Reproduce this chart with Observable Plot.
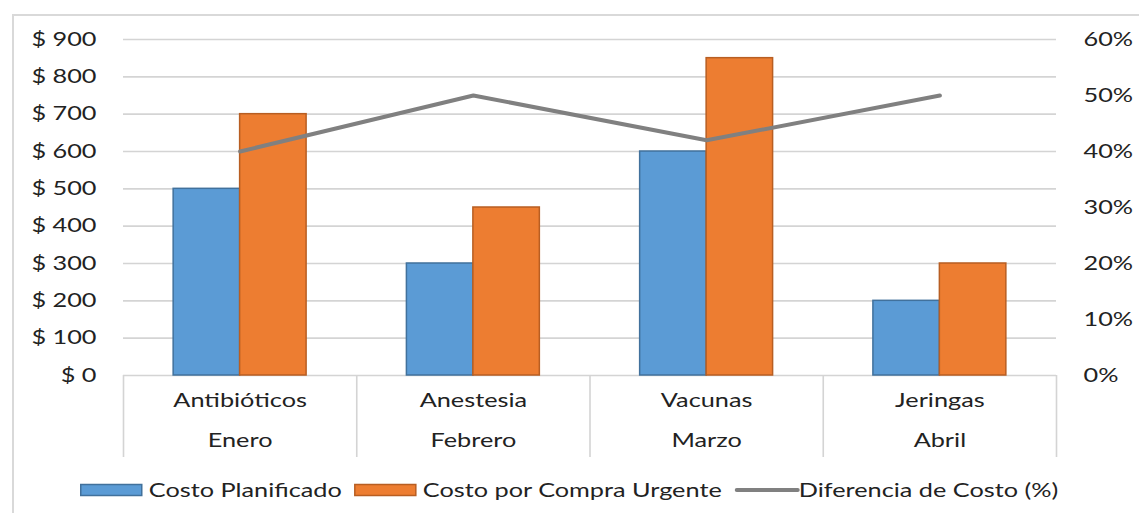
<!DOCTYPE html>
<html>
<head>
<meta charset="utf-8">
<script src="https://cdn.jsdelivr.net/npm/d3@7"></script>
<script src="https://cdn.jsdelivr.net/npm/@observablehq/plot@0.6"></script>
<style>
  html, body { margin: 0; padding: 0; background: #fff; }
  #wrap { position: relative; width: 1139px; height: 513px; overflow: hidden; font-family: Lato, "Open Sans", sans-serif; }
  #frame { position: absolute; left: 12px; top: 14px; width: 1200px; height: 600px; border: 2px solid #d9d9d9; box-sizing: border-box; }
  #chart { position: absolute; left: 0; top: 0; }
  #legend { position: absolute; left: 0; top: 470px; }
</style>
</head>
<body>
<div id="wrap">
  <div id="frame"></div>
  <div id="chart"></div>
  <svg id="legend" width="1139" height="43"></svg>
</div>
<script>
// ---- data ----
const categories = ["Antibióticos", "Anestesia", "Vacunas", "Jeringas"];
const months = ["Enero", "Febrero", "Marzo", "Abril"];
const plannedCost = [500, 300, 600, 200];
const urgentCost = [700, 450, 850, 300];
const diffPct = [0.40, 0.50, 0.42, 0.50];
const costTicks = [0, 100, 200, 300, 400, 500, 600, 700, 800, 900];
const pctTicks = [0, 0.1, 0.2, 0.3, 0.4, 0.5, 0.6];
const seriesNames = ["Costo Planificado", "Costo por Compra Urgente", "Diferencia de Costo (%)"];

// ---- styles ----
const blue = "#5B9BD5", blueEdge = "#41719C";
const orange = "#ED7D31", orangeEdge = "#B85E22";
const lineGrey = "#808080";
const gridGrey = "#d4d4d4";
const textCol = "#222";
const FONT = "Lato, 'Open Sans', sans-serif";
const FS = 19;
const STRETCH = 1.33;
const halfBar = 0.285;

const rows = categories.map((c, i) => ({i, cat: c, month: months[i], planned: plannedCost[i], urgent: urgentCost[i], pct: diffPct[i]}));
const pctToCost = d3.max(costTicks) / d3.max(pctTicks);
const dividers = d3.range(categories.length + 1).map(k => k - 0.5);

const chart = Plot.plot({
  width: 1139,
  height: 470,
  marginLeft: 123,
  marginRight: 83,
  marginTop: 39,
  marginBottom: 95,
  style: {background: "transparent", fontFamily: FONT, fontSize: FS + "px", color: textCol},
  x: {type: "linear", domain: [-0.5, categories.length - 0.5]},
  y: {domain: [0, d3.max(costTicks)]},
  marks: [
    Plot.ruleY(costTicks, {stroke: gridGrey, strokeWidth: 1.6}),
    Plot.rectY(rows, {x1: d => d.i - halfBar, x2: d => d.i, y: "planned", fill: blue, stroke: blueEdge, strokeWidth: 1.5}),
    Plot.rectY(rows, {x1: d => d.i, x2: d => d.i + halfBar, y: "urgent", fill: orange, stroke: orangeEdge, strokeWidth: 1.5}),
    Plot.line(rows, {x: "i", y: d => d.pct * pctToCost, stroke: lineGrey, strokeWidth: 4, strokeLinecap: "round", strokeLinejoin: "round"}),
    Plot.axisY({anchor: "left", ticks: costTicks, tickSize: 0, tickPadding: 27, tickFormat: d => "$ " + d, fill: textCol, fontSize: FS, label: null}),
    Plot.axisY({anchor: "right", ticks: pctTicks.map(p => p * pctToCost), tickSize: 0, tickPadding: 27, tickFormat: d => Math.round(d / pctToCost * 100) + "%", fill: textCol, fontSize: FS, label: null}),
    Plot.axisX({ticks: dividers, tickSize: 82, tickFormat: () => "", stroke: gridGrey, strokeWidth: 1.6, strokeOpacity: 1, label: null}),
    Plot.axisX({ticks: d3.range(categories.length), tickSize: 0, tickPadding: 18, tickFormat: i => categories[i], fill: textCol, fontSize: FS, label: null}),
    Plot.axisX({ticks: d3.range(categories.length), tickSize: 0, tickPadding: 58, tickFormat: i => months[i], fill: textCol, fontSize: FS, label: null})
  ]
});
document.getElementById("chart").appendChild(chart);

function stretch(t) {
  const len = t.getComputedTextLength();
  if (len > 0) {
    t.setAttribute("textLength", len * STRETCH);
    t.setAttribute("lengthAdjust", "spacingAndGlyphs");
  }
  return len * STRETCH;
}
chart.querySelectorAll("text").forEach(stretch);

// ---- legend ----
const leg = d3.select("#legend");
const items = [
  {name: seriesNames[0], kind: "rect", fill: blue, stroke: blueEdge},
  {name: seriesNames[1], kind: "rect", fill: orange, stroke: orangeEdge},
  {name: seriesNames[2], kind: "line", stroke: lineGrey}
];
const swW = 61, cy = 20;
const groups = items.map(it => {
  const g = leg.append("g");
  let tx;
  if (it.kind === "rect") {
    g.append("rect").attr("x", 0).attr("y", cy - 5.5).attr("width", swW).attr("height", 11)
      .attr("fill", it.fill).attr("stroke", it.stroke).attr("stroke-width", 1.5);
    tx = swW + 7;
  } else {
    g.append("line").attr("x1", 2).attr("x2", swW + 2).attr("y1", cy).attr("y2", cy)
      .attr("stroke", it.stroke).attr("stroke-width", 4).attr("stroke-linecap", "round");
    tx = swW + 3;
  }
  const t = g.append("text").attr("x", tx).attr("y", cy).attr("dy", "0.35em")
    .attr("fill", textCol).attr("font-family", FONT).attr("font-size", FS)
    .text(it.name);
  const tw = stretch(t.node());
  return {g, w: tx + tw};
});
const gap = 13;
const total = d3.sum(groups, d => d.w) + gap * (groups.length - 1);
let x0 = 1139 / 2 - total / 2;
groups.forEach(d => { d.g.attr("transform", `translate(${x0},0)`); x0 += d.w + gap; });
</script>
</body>
</html>
